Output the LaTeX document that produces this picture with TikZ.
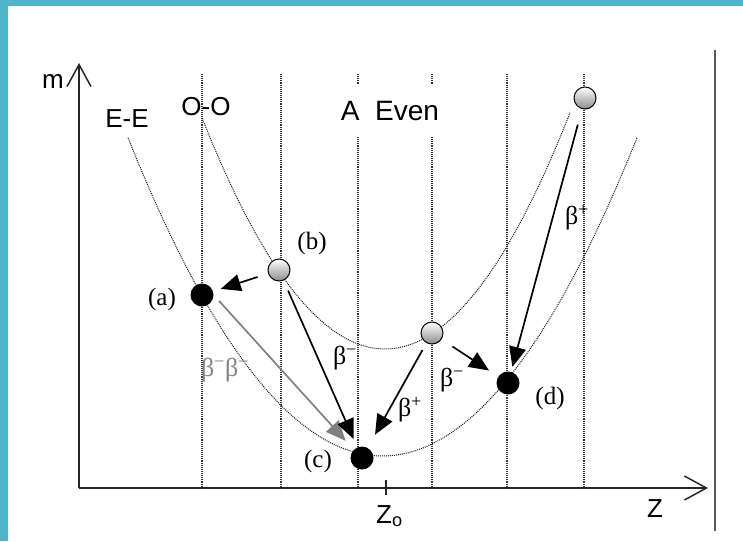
\documentclass[tikz,border=0pt]{standalone}
\usepackage{fontspec}
\setmainfont{Liberation Serif}
\setsansfont{Liberation Sans}
\usetikzlibrary{arrows.meta,positioning,calc}

\definecolor{frameteal}{RGB}{79,179,201}

\begin{document}
\begin{tikzpicture}[
		x=1pt,y=-1pt,
		>={Triangle[length=20pt,width=17pt]},
		every node/.style={inner sep=0pt},
		axis/.style={line width=1.5pt, black!85},
		axisarrow/.style={axis, -{Straight Barb[length=22pt,width=24pt]}},
		gridline/.style={densely dotted, line width=1.1pt, black!80},
		parab/.style={densely dotted, line width=1pt, black!90},
		eenuc/.style={circle, fill=black, minimum size=23pt},
		oonuc/.style={circle, draw=black, line width=1pt, top color=white, bottom color=black!45, minimum size=22pt},
		decay/.style={->, line width=1.7pt},
		sanslbl/.style={font=\sffamily\fontsize{26}{26}\selectfont},
		caselbl/.style={font=\fontsize{25}{25}\selectfont},
		betalbl/.style={font=\fontsize{26}{26}\selectfont}
		]
		
		\useasboundingbox (0,0) rectangle (743,541);
		
		% =========================
		% frame
		% =========================
		\fill[frameteal] (0,0) rectangle (743,6);
		\fill[frameteal] (0,0) rectangle (8,541);
		\draw[line width=2pt, black!65] (715,50) -- (715,531);
		
		% =========================
		% axes
		% =========================
		\coordinate (origin) at (79,488);
		\coordinate (mtop) at (79,63);
		\coordinate (zend) at (708,488);
		\draw[axisarrow] (origin) -- (mtop);
		\draw[axisarrow] (origin) -- (zend);
		\draw[axis] (386,480) -- (386,495);
		
		\node[sanslbl] (lbl-m) at (53,82) {m};
		\node[sanslbl] (lbl-z) at (655,509) {Z};
		\node[sanslbl, anchor=north west] (lbl-z0) at (376,505) {Z\textsubscript{o}};
		
		% isobar grid
		\foreach \gx in {202,281,358,432,507,584}
		\draw[gridline] (\gx,74) -- (\gx,488);
		
		% =========================
		% mass parabolas
		% =========================
		\draw[parab] plot[domain=128:637, samples=70] (\x,{456-(0.0701*(\x-382.5))^2});
		\draw[parab] plot[domain=202:570, samples=70] (\x,{349-(0.0831*(\x-385))^2});
		
		\node[sanslbl] (lbl-ee) at (127,119) {E-E};
		\node[sanslbl] (lbl-oo) at (206,107) {O-O};
		\node[sanslbl, font=\sffamily\fontsize{28}{28}\selectfont, fill=white,
		minimum height=52pt, inner xsep=2pt] (lbl-even) at (390,111) {A\ \ Even};
		
		% =========================
		% nuclei
		% =========================
		\node[eenuc] (ee-a) at (202,295) {};
		\node[oonuc] (oo-b) at (279,270) {};
		\node[eenuc] (ee-c) at (362,458) {};
		\node[oonuc] (oo-mid) at (432,333) {};
		\node[eenuc] (ee-d) at (508,383) {};
		\node[oonuc] (oo-top) at (585,98) {};
		
		\node[caselbl] (lbl-a) at (162,299) {(a)};
		\node[caselbl] (lbl-b) at (312,243) {(b)};
		\node[caselbl] (lbl-c) at (318,461) {(c)};
		\node[caselbl] (lbl-d) at (550,398) {(d)};
		
		% =========================
		% decays
		% =========================
		\draw[decay, shorten <=11pt, shorten >=8pt] (oo-b) -- (ee-a);
		\draw[decay, gray, shorten <=8pt, shorten >=12pt] (ee-a.east) -- (ee-c.north west);
		\draw[decay, shorten <=11pt, shorten >=9pt] (oo-b) -- (ee-c);
		\draw[decay, shorten <=8pt, shorten >=15pt] (oo-mid) -- (ee-c);
		\draw[decay, shorten <=13pt, shorten >=11pt] (oo-mid) -- (ee-d);
		\draw[decay, shorten <=16pt, shorten >=5pt] (oo-top) -- (ee-d);
		
		\node[betalbl, gray] (lbl-bb) at (225,370) {β\textsuperscript{−}β\textsuperscript{−}};
		\node[betalbl] (lbl-bc) at (345,358) {β\textsuperscript{−}};
		\node[betalbl] (lbl-mc) at (410,410) {β\textsuperscript{+}};
		\node[betalbl] (lbl-md) at (452,380) {β\textsuperscript{−}};
		\node[betalbl] (lbl-td) at (577,218) {β\textsuperscript{+}};
	\end{tikzpicture}
\end{document}
